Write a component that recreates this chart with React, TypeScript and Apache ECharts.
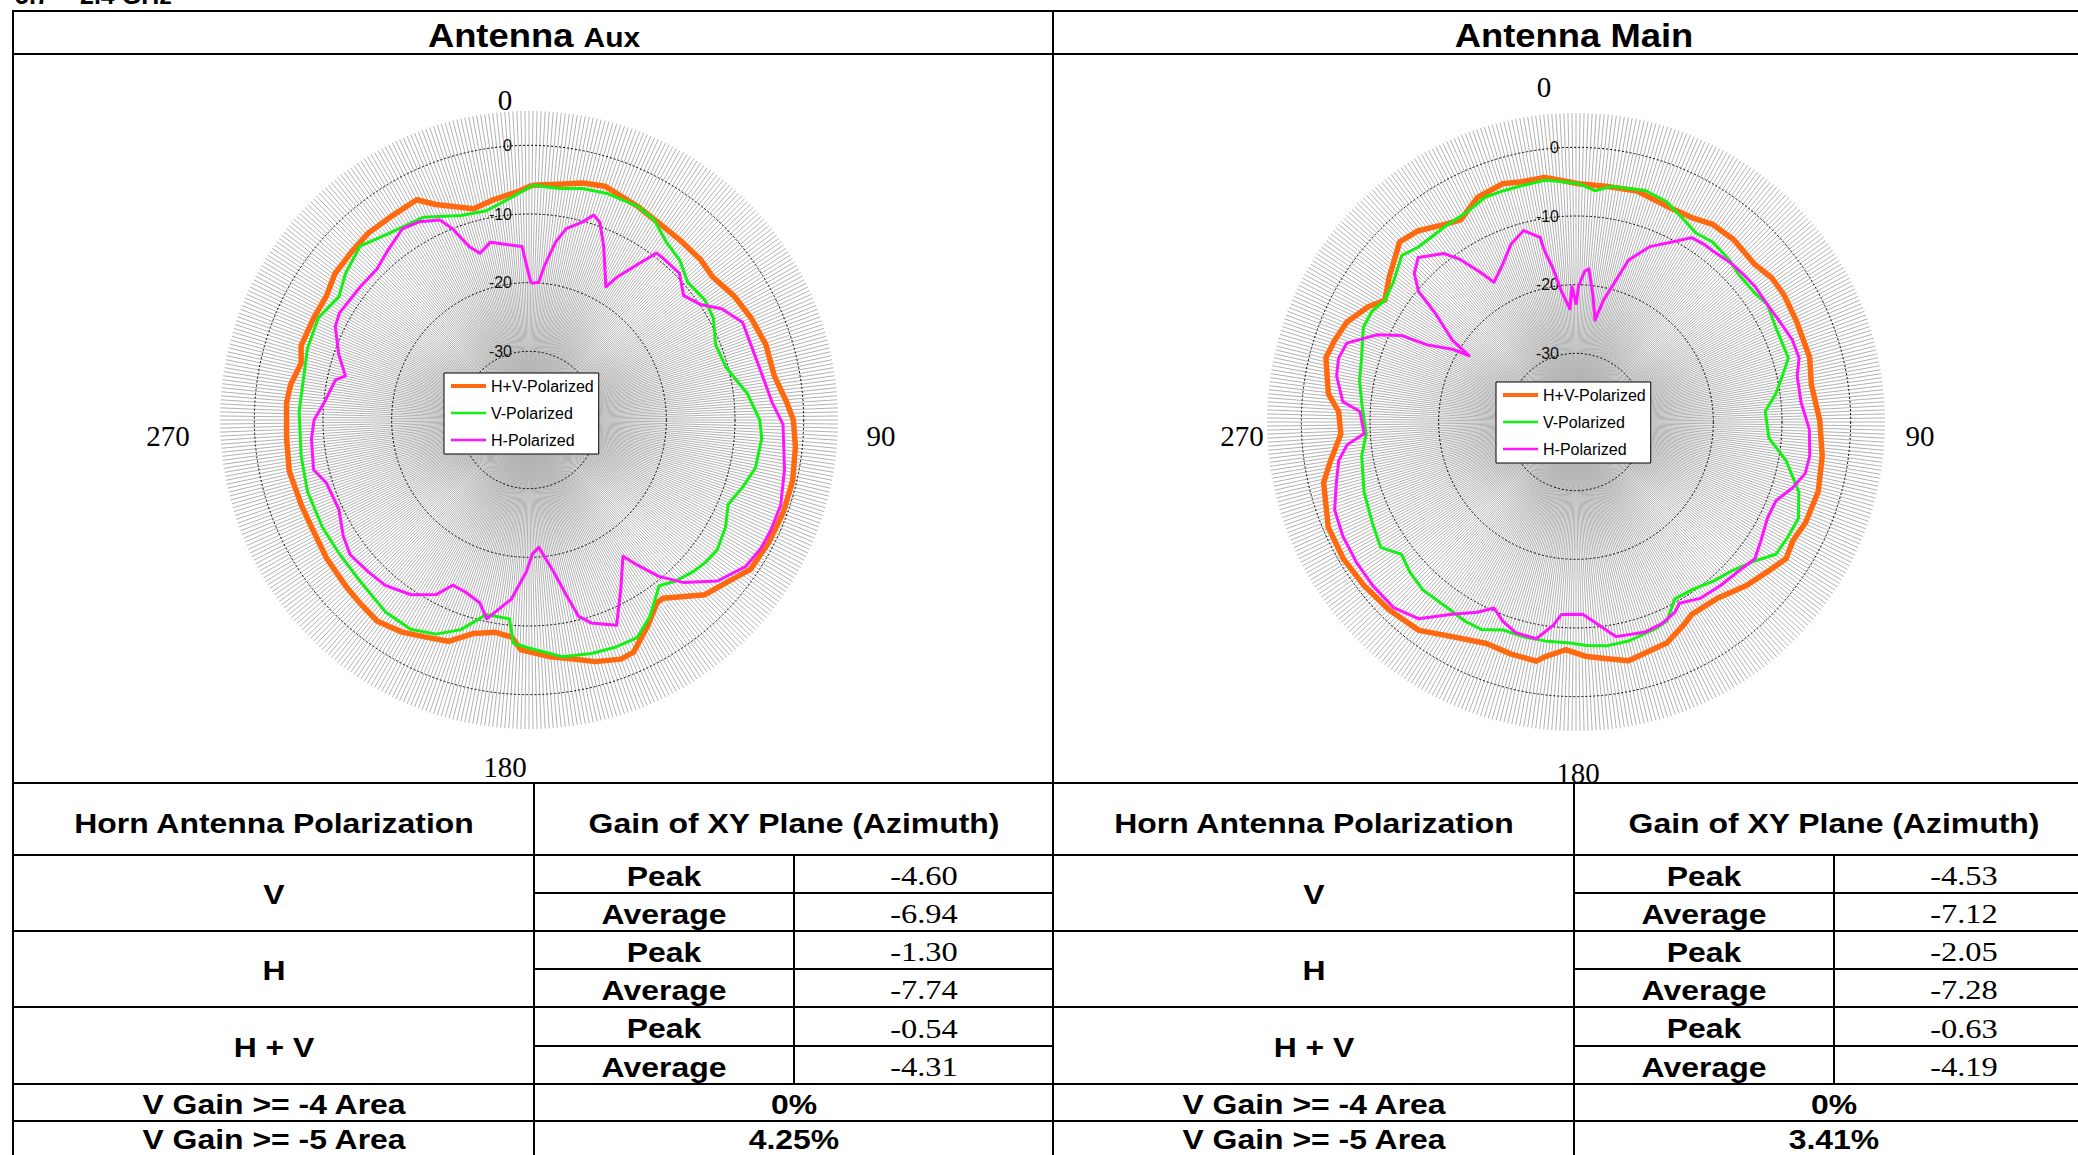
import React, { useEffect, useRef } from 'react';
import * as echarts from 'echarts';

// ---------------- DATA ----------------
const seriesNames = ['H+V-Polarized', 'V-Polarized', 'H-Polarized'];
const seriesColors = ['#ff6a10', '#14f014', '#ff14ff'];
const seriesWidths = [5.5, 3, 3];
const legendLineWidths = [4, 2.5, 2.5];

// [azimuth (deg), gain (dB)]
const auxHV: number[][] = [
  [0.8, -5.8], [7, -5.4], [12.8, -4.6], [18, -4.2], [27, -5.1], [34.6, -5.7], [40, -5.8], [47, -5.8],
  [52, -6.1], [58.8, -5.1], [65.4, -4.4], [72.3, -3.8], [79.8, -3.7], [86, -2.4], [90, -1.5], [95.8, -1.0],
  [103, -0.6], [110, -0.6], [117, -0.8], [124, -1.1], [129.6, -2.8], [134.8, -3.9], [138.7, -5.8], [143, -7.5],
  [145, -7.5], [150, -5.4], [155.8, -2.9], [159, -2.7], [164.6, -3.5], [170, -4.7], [175, -5.4], [182, -6.5],
  [184.6, -8.3], [189, -8.7], [194.5, -7.9], [200, -5.7], [206, -4.9], [210.9, -4.0], [217, -3.3], [222.7, -3.7],
  [228, -4.0], [235.6, -4.3], [245, -4.7], [249.5, -4.6], [258, -4.3], [265.7, -4.6], [274, -4.6], [278.4, -4.9],
  [284, -5.8], [288, -5.1], [295.4, -5.3], [301.6, -5.4], [307, -4.6], [313.6, -4.4], [319.3, -4.1], [325.5, -4.2],
  [333, -4.0], [336.6, -5.8], [345.3, -8.2], [351, -7.5], [357.7, -6.6],
];
const auxV: number[][] = [
  [1, -5.8], [7.6, -6.0], [13, -5.4], [19, -5.1], [27, -5.1], [32, -5.6], [37.8, -7.3], [43.3, -8.0],
  [49, -9.4], [55.7, -9.0], [61, -9.3], [68, -10.7], [75, -10.3], [83, -8.0], [90, -6.4], [94.5, -6.0],
  [102, -6.3], [107.5, -7.4], [113, -8.5], [118.6, -7.4], [124.6, -6.7], [129, -7.0], [133, -7.5], [137.7, -8.3],
  [141.9, -9.3], [148.4, -6.4], [153.6, -4.6], [159, -4.6], [165, -4.8], [172, -5.2], [180, -6.8], [184, -7.4],
  [185.6, -10.9], [192.4, -11.0], [198, -7.9], [203.5, -6.0], [209.5, -5.0], [216.8, -5.1], [226.4, -6.0], [234.8, -6.2],
  [242.5, -6.1], [252, -6.1], [261, -6.4], [272, -6.5], [283, -6.5], [287.8, -6.1], [295.9, -5.9], [303, -7.0],
  [308.6, -5.8], [315.8, -4.7], [323, -6.0], [332.4, -6.7], [341.6, -8.6], [348.5, -8.9], [355.5, -7.5],
];
const auxH: number[][] = [
  [0.9, -20.1], [4, -19.9], [5.9, -17.2], [8.5, -13.8], [11, -11.6], [15.2, -10.1], [17.5, -8.7], [19.7, -9.4],
  [23.3, -12.5], [30, -17.6], [31.6, -15.6], [34.9, -12.4], [37.4, -9.4], [39.5, -9.4], [45.7, -9.4], [51.2, -11.1],
  [56, -9.9], [60, -7.6], [65.4, -5.8], [77, -5.6], [85.9, -4.5], [91, -3.0], [101, -2.1], [108.7, -1.3],
  [114.7, -1.3], [118.9, -1.4], [124, -1.9], [130.5, -3.9], [136.4, -7.3], [140.3, -10.4], [143.2, -13.6], [145.4, -15.9],
  [151.6, -11.9], [156.9, -7.5], [163, -9.1], [165.8, -10.5], [168, -14.0], [170.8, -17.6], [175.6, -21.4], [178.5, -20.5],
  [181, -17.9], [185.6, -13.8], [190, -11.6], [192, -10.4], [195, -12.4], [200.3, -13.3], [204.8, -13.5], [208, -11.2],
  [214, -9.3], [221, -8.1], [226.6, -7.8], [233, -7.4], [238, -8.1], [244.8, -9.4], [252.8, -9.1], [257, -7.8],
  [265, -8.2], [270, -8.7], [275, -10.1], [281.6, -11.2], [283.5, -12.5], [289, -10.7], [295.7, -8.7], [299.4, -8.3],
  [308.3, -8.7], [314.8, -8.8], [320, -7.9], [326.5, -6.6], [331, -7.0], [336, -8.1], [338.2, -10.0], [341, -13.3],
  [343.6, -14.7], [347.8, -13.5], [351.6, -14.1], [357.7, -14.7], [359, -17.3],
];
const mainHV: number[][] = [
  [0.6, -5.3], [7.7, -5.4], [14.8, -5.2], [22.8, -5.9], [29.5, -5.8], [34.7, -5.0], [40.9, -4.9], [48.6, -5.3],
  [53.6, -4.6], [58.7, -4.5], [65.7, -4.7], [74.6, -4.7], [81, -5.3], [89.6, -4.5], [97.9, -3.8], [106, -3.3],
  [113.7, -3.5], [118.7, -4.0], [123, -3.5], [128, -4.6], [133.8, -5.6], [141.4, -7.1], [148.9, -7.3], [152.2, -6.5],
  [157.7, -5.2], [167.6, -4.4], [172.4, -5.2], [177.4, -5.8], [182.6, -6.8], [187.6, -5.5], [189.4, -4.7], [195.6, -4.9],
  [202, -5.2], [210, -3.9], [217, -2.0], [224.8, -1.4], [232.4, -1.0], [239.6, -0.7], [247, -0.8], [256.5, -2.2],
  [261, -3.8], [267, -5.7], [272.5, -5.4], [276.5, -3.7], [284.4, -2.4], [288.7, -2.9], [293.6, -3.6], [299, -5.4],
  [302.5, -7.0], [307.7, -5.6], [315.6, -3.3], [320.5, -3.9], [326.2, -5.4], [330.3, -6.1], [336.3, -4.3], [342.9, -3.7],
  [346.7, -4.1], [352.7, -4.1], [355.6, -4.6],
];
const mainV: number[][] = [
  [0.6, -5.3], [4.7, -6.2], [8.6, -5.3], [16.7, -4.8], [22.4, -5.3], [28, -6.6], [32.4, -7.4], [37.2, -7.1],
  [43.4, -7.5], [47.5, -8.0], [54.2, -7.9], [58.4, -7.3], [64.5, -7.8], [73.2, -7.7], [77.4, -9.2], [81.9, -10.6],
  [86.8, -12.4], [94.8, -11.8], [100.4, -8.9], [107.4, -6.0], [113.4, -4.7], [118.7, -4.9], [123.5, -5.1], [127.8, -7.0],
  [133.1, -8.5], [139.2, -9.4], [145.4, -10.3], [150.8, -10.5], [155.5, -8.1], [159.5, -7.7], [166.5, -7.2], [171.9, -7.1],
  [177.3, -7.4], [181.6, -7.8], [188.1, -7.8], [193.7, -7.8], [199.4, -7.9], [204.4, -6.8], [209.2, -6.8], [214.6, -7.1],
  [222.4, -6.9], [227.9, -7.4], [232.8, -8.1], [237.3, -6.2], [243.7, -6.9], [251.8, -7.5], [261, -8.4], [266.8, -9.4],
  [274.8, -8.7], [280.9, -7.9], [286.7, -7.4], [294, -6.1], [298.5, -6.2], [302.5, -7.0], [307.4, -6.5], [313.7, -4.9],
  [318, -5.7], [321.9, -5.8], [327, -5.7], [333, -5.5], [338, -4.7], [342.4, -4.7], [346.5, -4.7], [352.6, -4.5],
  [356.5, -4.9],
];
const mainH: number[][] = [
  [0.1, -22.9], [1, -20.3], [3.3, -18.0], [4.8, -17.6], [7.6, -21.4], [10.6, -24.9], [12.7, -21.8], [14.9, -19.6],
  [16.6, -17.4], [18, -15.2], [22.8, -12.3], [27.8, -10.4], [32.1, -8.3], [35.8, -8.1], [38.7, -8.1], [43.9, -7.7],
  [48.2, -7.5], [52.9, -7.3], [58.4, -7.3], [63.9, -6.9], [69.3, -6.3], [74, -6.2], [78.2, -7.1], [85, -7.1],
  [91.8, -6.0], [98.3, -5.6], [102.7, -5.8], [106.8, -7.0], [111.5, -8.7], [116.7, -8.8], [122.7, -8.0], [127.4, -7.2],
  [132.8, -7.9], [138.4, -8.2], [144.9, -8.6], [150.3, -9.6], [152.5, -8.8], [156.8, -8.1], [161.7, -7.8], [169.4, -8.2],
  [173.5, -10.2], [178, -12.0], [184.3, -11.9], [186.4, -10.2], [190.4, -7.9], [196.1, -8.1], [200.2, -9.1], [203.8, -10.4],
  [207.4, -8.8], [212.8, -6.7], [218.7, -3.3], [224.5, -2.1], [231.3, -2.0], [237.4, -2.05], [243.9, -2.2], [250, -2.6],
  [255.8, -4.0], [260.8, -5.0], [264.3, -6.5], [266.8, -9.1], [272.8, -8.5], [275, -5.9], [280.9, -4.5], [285, -4.2],
  [289, -4.7], [293.6, -8.3], [296.4, -11.7], [297.4, -15.6], [300.5, -19.1], [301.8, -21.7], [303.5, -18.4], [307.7, -14.1],
  [309.7, -10.2], [312.6, -8.0], [316.2, -6.8], [321.9, -8.8], [324.6, -11.0], [327.6, -14.3], [329.6, -16.4], [335, -14.7],
  [340, -12.4], [344.7, -11.1], [349, -12.6], [349.6, -14.7], [351.5, -17.4], [353.6, -20.8], [356.9, -23.5], [358.3, -20.3],
];

const radiusTickLabels = [0, -10, -20, -30];
const angleLabels = ['0', '90', '180', '270'];
const panelTitles = [['Antenna', 'Aux'], ['Antenna', 'Main']];
const headerLabels = ['Horn Antenna Polarization', 'Gain of XY Plane (Azimuth)'];
const polarizations = ['V', 'H', 'H + V'];
const statNames = ['Peak', 'Average'];
const auxStats = ['-4.60', '-6.94', '-1.30', '-7.74', '-0.54', '-4.31'];
const mainStats = ['-4.53', '-7.12', '-2.05', '-7.28', '-0.63', '-4.19'];
const areaLabels = ['V Gain >= -4 Area', 'V Gain >= -5 Area'];
const auxAreas = ['0%', '4.25%'];
const mainAreas = ['0%', '3.41%'];

// ---------------- LAYOUT ----------------
const W = 2078;
const H = 1155;
const POLAR_CENTERS = [[529, 420], [1576, 422]];
const POLAR_RADIUS = 309;
const LEGEND_POS = [[444, 373], [1496, 382]];
const ANGLE_LABEL_POS = [
  [[505, 100], [881, 436], [505, 767], [168, 436]],
  [[1544, 87], [1920, 436], [1578, 773], [1242, 436]],
];
const PANEL_X = [13, 1053];
const COLS = [0, 521, 781, 1041];
const ROWS = [855, 931, 1007, 1084];
const SUBS = [893, 969, 1046];
const AREA_CY = [1105, 1140];
const TITLE_SUFFIX_SIZE = [28, 34];

const SANS = '"Liberation Sans", Arial, Helvetica, sans-serif';
const SERIF = '"Liberation Serif", "Times New Roman", serif';
const LBL = 28;
const LBL_SX = 1.14;
const VAL = 27.5;
const VAL_SX = 1.18;

function Rule({ x, y, w, h }: { x: number; y: number; w: number; h: number }) {
  return <div style={{ position: 'absolute', left: x, top: y, width: w, height: h, background: '#000' }} />;
}

function Txt({ cx, cy, size, serif, sx, children }: any) {
  return (
    <div
      style={{
        position: 'absolute',
        left: cx,
        top: cy,
        whiteSpace: 'nowrap',
        lineHeight: 1,
        fontSize: size,
        fontFamily: serif ? SERIF : SANS,
        fontWeight: serif ? 400 : 700,
        color: '#000',
        transform: `translate(-50%, -50%) scaleX(${sx})`,
      }}
    >
      {children}
    </div>
  );
}

function Table() {
  const els: any[] = [];
  const L = 13;
  const R = 2094;
  [11, 54, 783, ...ROWS, 1121].forEach((y, i) => els.push(<Rule key={'h' + i} x={L - 1} y={y - 1} w={R - L + 2} h={2} />));
  [13, 1053].forEach((x, i) => els.push(<Rule key={'v' + i} x={x - 1} y={10} w={2} h={H} />));
  PANEL_X.forEach((x0, p) => {
    SUBS.forEach((y, i) => els.push(<Rule key={`s${p}${i}`} x={x0 + COLS[1]} y={y - 1} w={COLS[3] - COLS[1]} h={2} />));
    els.push(<Rule key={`c1${p}`} x={x0 + COLS[1] - 1} y={783} w={2} h={H - 783} />);
    els.push(<Rule key={`c2${p}`} x={x0 + COLS[2] - 1} y={855} w={2} h={1084 - 855} />);
    const stats = p === 0 ? auxStats : mainStats;
    const areas = p === 0 ? auxAreas : mainAreas;
    const c0 = x0 + (COLS[0] + COLS[1]) / 2;
    const c12 = x0 + (COLS[1] + COLS[3]) / 2;
    const c1 = x0 + (COLS[1] + COLS[2]) / 2;
    const c2 = x0 + (COLS[2] + COLS[3]) / 2;
    els.push(
      <Txt key={`t${p}`} cx={x0 + COLS[3] / 2} cy={35} size={34} sx={1.07}>
        {panelTitles[p][0]} <span style={{ fontSize: TITLE_SUFFIX_SIZE[p] }}>{panelTitles[p][1]}</span>
      </Txt>
    );
    els.push(<Txt key={`hh0${p}`} cx={c0} cy={824} size={LBL} sx={LBL_SX}>{headerLabels[0]}</Txt>);
    els.push(<Txt key={`hh1${p}`} cx={c12} cy={824} size={LBL} sx={LBL_SX}>{headerLabels[1]}</Txt>);
    polarizations.forEach((pol, k) => {
      const top = ROWS[k];
      const bot = ROWS[k + 1];
      const mid = SUBS[k];
      els.push(<Txt key={`p${p}${k}`} cx={c0} cy={(top + bot) / 2 + 2} size={LBL} sx={LBL_SX}>{pol}</Txt>);
      [[top, mid], [mid, bot]].forEach(([a, b], j) => {
        els.push(<Txt key={`n${p}${k}${j}`} cx={c1} cy={(a + b) / 2 + 2.5} size={LBL} sx={LBL_SX}>{statNames[j]}</Txt>);
        els.push(<Txt key={`v${p}${k}${j}`} cx={c2} cy={(a + b) / 2 + 2} size={VAL} sx={VAL_SX} serif>{stats[k * 2 + j]}</Txt>);
      });
    });
    areaLabels.forEach((lab, k) => {
      const cy = AREA_CY[k];
      els.push(<Txt key={`a${p}${k}`} cx={c0} cy={cy} size={LBL} sx={LBL_SX}>{lab}</Txt>);
      els.push(<Txt key={`av${p}${k}`} cx={c12} cy={cy} size={LBL} sx={LBL_SX}>{areas[k]}</Txt>);
    });
  });
  return <>{els}</>;
}

function buildOption() {
  const sets = [[auxHV, auxV, auxH], [mainHV, mainV, mainH]];
  const series: any[] = [];
  sets.forEach((set, p) => {
    set.forEach((arr, i) => {
      const closed = arr.concat([arr[0]]);
      series.push({
        type: 'line',
        coordinateSystem: 'polar',
        polarIndex: p,
        name: seriesNames[i],
        data: closed.map(([a, g]) => [g, a]),
        symbol: 'none',
        showSymbol: false,
        smooth: false,
        lineStyle: { color: seriesColors[i], width: seriesWidths[i], join: 'round' },
        itemStyle: { color: seriesColors[i] },
        z: 3 + i,
        silent: true,
      });
    });
  });

  const graphic: any[] = [];
  ANGLE_LABEL_POS.forEach((pos, p) =>
    pos.forEach((xy, k) =>
      graphic.push({
        type: 'text',
        x: xy[0],
        y: xy[1],
        silent: true,
        style: {
          text: angleLabels[k],
          fontSize: 29,
          fontFamily: 'Liberation Serif',
          fill: '#000',
          align: 'center',
          verticalAlign: 'middle',
        },
      })
    )
  );

  return {
    animation: false,
    polar: POLAR_CENTERS.map((c) => ({ center: c, radius: [0, POLAR_RADIUS] })),
    angleAxis: POLAR_CENTERS.map((_, p) => ({
      polarIndex: p,
      type: 'value',
      min: 0,
      max: 360,
      interval: 0.75,
      startAngle: 90,
      clockwise: true,
      axisLine: { show: false },
      axisTick: { show: false },
      axisLabel: { show: false },
      splitLine: { show: true, lineStyle: { color: '#b2b2b2', width: 1 } },
      z: 0,
    })),
    radiusAxis: POLAR_CENTERS.map((_, p) => ({
      polarIndex: p,
      type: 'value',
      min: -40,
      max: 5,
      interval: 10,
      axisLine: { show: false },
      axisTick: { show: false },
      axisLabel: {
        margin: 17,
        fontSize: 16,
        fontFamily: 'Liberation Sans',
        color: '#111',
        formatter: (v: number) => (radiusTickLabels.indexOf(v) >= 0 ? String(v) : ''),
      },
      splitLine: {
        show: true,
        lineStyle: { color: ['rgba(0,0,0,0)', '#000', '#000', '#000', '#000', 'rgba(0,0,0,0)'], width: 1, type: [2, 2] },
      },
      z: 1,
    })),
    legend: LEGEND_POS.map((pos) => ({
      data: seriesNames.map((n, i) => ({ name: n, lineStyle: { width: legendLineWidths[i] } })),
      orient: 'vertical',
      left: pos[0],
      top: pos[1],
      itemWidth: 35,
      itemHeight: 14,
      itemGap: 11,
      padding: [5, 5, 6, 5],
      backgroundColor: '#fff',
      borderColor: '#000',
      borderWidth: 1,
      borderRadius: 0,
      selectedMode: false,
      itemStyle: { opacity: 0 },
      textStyle: { fontSize: 16, lineHeight: 16, color: '#000', fontFamily: 'Liberation Sans' },
      z: 10,
    })),
    graphic,
    series,
  };
}

export default function App() {
  const ref = useRef<HTMLDivElement>(null);
  useEffect(() => {
    if (!ref.current) return;
    const chart = echarts.init(ref.current, undefined, { renderer: 'svg', width: W, height: H });
    chart.setOption(buildOption() as any);
    return () => chart.dispose();
  }, []);
  return (
    <div style={{ position: 'absolute', left: 0, top: 0, width: W, height: H, overflow: 'hidden', background: '#fff' }}>
      <div style={{ position: 'absolute', left: 15, top: -17, fontFamily: SANS, fontWeight: 700, fontSize: 25, lineHeight: '25px', whiteSpace: 'nowrap' }}>
        5.7
      </div>
      <div style={{ position: 'absolute', left: 80, top: -17, fontFamily: SANS, fontWeight: 700, fontSize: 25, lineHeight: '25px', whiteSpace: 'nowrap' }}>
        2.4 GHz
      </div>
      <Table />
      <div ref={ref} style={{ position: 'absolute', left: 0, top: 0, width: W, height: H }} />
    </div>
  );
}
